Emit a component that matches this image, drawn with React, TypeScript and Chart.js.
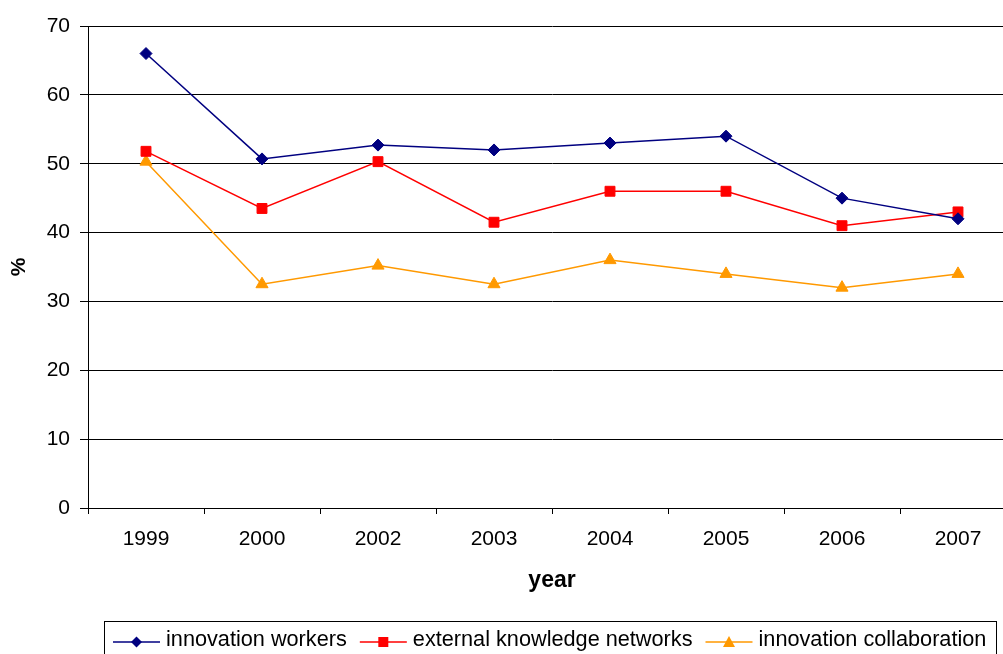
import React, { useEffect, useRef } from "react";
import { Chart, registerables } from "chart.js";

Chart.register(...registerables);

const categories = ["1999", "2000", "2002", "2003", "2004", "2005", "2006", "2007"];
const innovationWorkers = [66, 50.7, 52.7, 52, 53, 54, 45, 42];
const externalKnowledgeNetworks = [51.8, 43.5, 50.3, 41.5, 46, 46, 41, 43];
const innovationCollaboration = [50.3, 32.5, 35.2, 32.5, 36, 34, 32, 34];
const yTicks = [0, 10, 20, 30, 40, 50, 60, 70];

const FONT = '"Liberation Sans", Arial, sans-serif';
const W = 1040;
const H = 654;

const legendPlugin = {
  id: "customLegend",
  afterDraw(chart: any) {
    const ctx = chart.ctx as CanvasRenderingContext2D;
    ctx.save();
    ctx.strokeStyle = "#000";
    ctx.lineWidth = 1;
    ctx.strokeRect(104.5, 621.5, 892, 80);
    ctx.font = `21.7px ${FONT}`;
    ctx.textBaseline = "alphabetic";
    ctx.textAlign = "left";
    let x = 113;
    const ly = 642;
    chart.data.datasets.forEach((ds: any) => {
      const c = ds.borderColor;
      ctx.strokeStyle = c;
      ctx.lineWidth = 1.5;
      ctx.beginPath();
      ctx.moveTo(x, ly);
      ctx.lineTo(x + 47, ly);
      ctx.stroke();
      const cx = x + 23.5;
      ctx.fillStyle = c;
      ctx.beginPath();
      if (ds.pointStyle === "rectRot") {
        ctx.moveTo(cx, ly - 5.5);
        ctx.lineTo(cx + 5.5, ly);
        ctx.lineTo(cx, ly + 5.5);
        ctx.lineTo(cx - 5.5, ly);
        ctx.closePath();
      } else if (ds.pointStyle === "rect") {
        ctx.rect(cx - 5, ly - 5, 10, 10);
      } else {
        ctx.moveTo(cx, ly - 6);
        ctx.lineTo(cx + 6, ly + 5);
        ctx.lineTo(cx - 6, ly + 5);
        ctx.closePath();
      }
      ctx.fill();
      ctx.fillStyle = "#000";
      ctx.fillText(ds.label, x + 53, 646);
      x += 53 + ctx.measureText(ds.label).width + 13;
    });
    ctx.restore();
  },
};

export default function App() {
  const ref = useRef<HTMLCanvasElement>(null);
  useEffect(() => {
    document.documentElement.style.overflow = "hidden";
    document.body.style.overflow = "hidden";
    document.body.style.margin = "0";
    const chart = new Chart(ref.current!, {
      type: "line",
      data: {
        labels: categories,
        datasets: [
          {
            label: "innovation workers",
            data: innovationWorkers,
            borderColor: "#000080",
            backgroundColor: "#000080",
            borderWidth: 1.5,
            pointStyle: "rectRot",
            pointRadius: 6,
            pointBorderWidth: 1,
            tension: 0,
          },
          {
            label: "external knowledge networks",
            data: externalKnowledgeNetworks,
            borderColor: "#FF0000",
            backgroundColor: "#FF0000",
            borderWidth: 1.5,
            pointStyle: "rect",
            pointRadius: 7,
            pointBorderWidth: 1,
            tension: 0,
          },
          {
            label: "innovation collaboration",
            data: innovationCollaboration,
            borderColor: "#FF9900",
            backgroundColor: "#FF9900",
            borderWidth: 1.5,
            pointStyle: "triangle",
            pointRadius: 7,
            pointBorderWidth: 1,
            tension: 0,
          },
        ],
      },
      options: {
        responsive: false,
        animation: false,
        layout: { padding: { top: 26, right: W - 1016, bottom: 0, left: 0 } },
        plugins: {
          legend: { display: false },
          tooltip: { enabled: false },
        },
        scales: {
          x: {
            type: "category",
            offset: true,
            grid: {
              offset: true,
              drawOnChartArea: false,
              drawTicks: true,
              tickLength: 6,
              color: "#000",
            },
            border: { display: true, color: "#000", width: 1 },
            ticks: {
              color: "#000",
              font: { family: FONT, size: 21 },
              padding: 13,
              maxRotation: 0,
            },
            title: {
              display: true,
              text: "year",
              color: "#000",
              font: { family: FONT, size: 23, weight: "bold" },
              padding: { top: 0, bottom: 60 },
            },
            afterFit: (s: any) => {
              s.height = 146;
            },
          },
          y: {
            min: 0,
            max: 70,
            afterBuildTicks: (s: any) => {
              s.ticks = yTicks.map((v) => ({ value: v }));
            },
            grid: {
              color: "#000",
              tickLength: 8,
              drawTicks: true,
            },
            border: { display: true, color: "#000", width: 1 },
            ticks: {
              color: "#000",
              font: { family: FONT, size: 21 },
              padding: 10,
            },
            title: {
              display: true,
              text: "%",
              color: "#000",
              font: { family: FONT, size: 21, weight: "bold" },
              padding: { top: 7, bottom: 0 },
            },
            afterFit: (s: any) => {
              s.width = 88;
            },
          },
        },
      },
      plugins: [legendPlugin],
    });
    return () => chart.destroy();
  }, []);
  return (
    <div style={{ position: "absolute", left: 0, top: 0, width: W, height: H, overflow: "hidden" }}>
      <canvas ref={ref} width={W} height={H} style={{ width: W, height: H, display: "block" }} />
    </div>
  );
}
